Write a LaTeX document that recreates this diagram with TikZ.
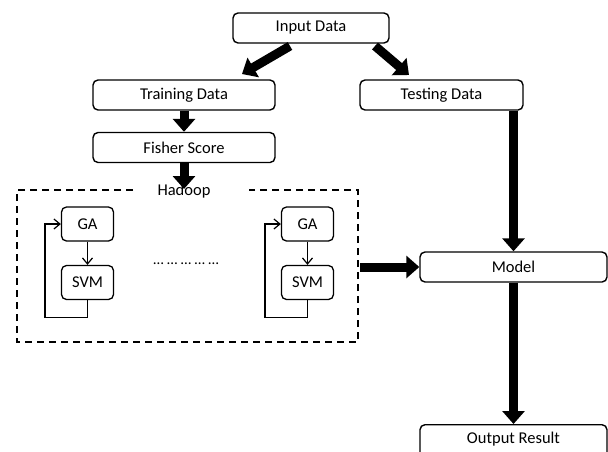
\documentclass[tikz,border=0pt]{standalone}
\usepackage{fontspec}
\setmainfont{Carlito}
\usetikzlibrary{arrows.meta}
\begin{document}
\begin{tikzpicture}[x=1pt,y=-1pt,
  lbl/.style={font=\fontsize{16.5}{19}\selectfont},
  box/.style={draw,line width=1.4pt,rounded corners=5pt,minimum height=30pt,inner sep=0pt,lbl},
  small/.style={draw,line width=1.3pt,rounded corners=5pt,minimum width=52pt,minimum height=34pt,inner sep=0pt,lbl},
  fat/.style={line width=9pt,-{Triangle[length=13pt,width=22pt]}},
  thin/.style={line width=1.2pt,-{Straight Barb[length=6pt,width=10pt]}},
  dash box/.style={line width=1.4pt,dash pattern=on 7pt off 5pt}]
\useasboundingbox (0,0) rectangle (608,451);
\begin{scope}
\clip (0,0) rectangle (608,451);
\node[box,minimum width=156pt] (input) at (311,28) {Input Data};
\node[box,minimum width=182pt] (train) at (184,95) {Training Data};
\node[box,minimum width=163pt] (test) at (441.5,95) {Testing Data};
\node[box,minimum width=182pt] (fisher) at (184,147.5) {Fisher Score};
\node[box,minimum width=187pt] (model) at (513.5,267) {Model};
\node[box,minimum width=187pt,minimum height=36pt,anchor=north] (out) at (513.5,424) {};
\node[lbl] (outlabel) at (513.5,439) {Output Result};

% Hadoop cluster frame
\node[lbl] (hadoop) at (184,191) {Hadoop};
\coordinate (hl) at (133,190);
\coordinate (hr) at (249,190);
\draw[dash box] (hl) -- (17,190) -- (17,342) -- (358,342) -- (358,190) -- (hr);

% worker pairs
\node[small] (ga1) at (87.5,224) {GA};
\node[small] (svm1) at (87.5,282.5) {SVM};
\node[small] (ga2) at (307.5,224) {GA};
\node[small] (svm2) at (307.5,282.5) {SVM};
\node[font=\fontsize{15}{17}\selectfont] (dots) at (186,264) {\dots\ \dots\ \dots\ \dots\ \dots};
\draw[thin] (ga1) -- (svm1);
\draw[thin] (ga2) -- (svm2);
\draw[thin] (svm1.south) -- ++(0,17) -| (45,224) -- (ga1.west);
\draw[thin] (svm2.south) -- ++(0,17) -| (265,224) -- (ga2.west);

% data flow
\draw[fat] (290,46) -- (242,74);
\draw[fat] (375,46) -- (409,75);
\draw[fat] (train) -- (fisher);
\draw[fat] (fisher.south) -- (184,189);
\draw[fat] (model.north |- test.south) -- (model.north);
\draw[fat] (360,267) -- (model.west);
\draw[fat] (model) -- (out.north);
\end{scope}
\end{tikzpicture}
\end{document}
